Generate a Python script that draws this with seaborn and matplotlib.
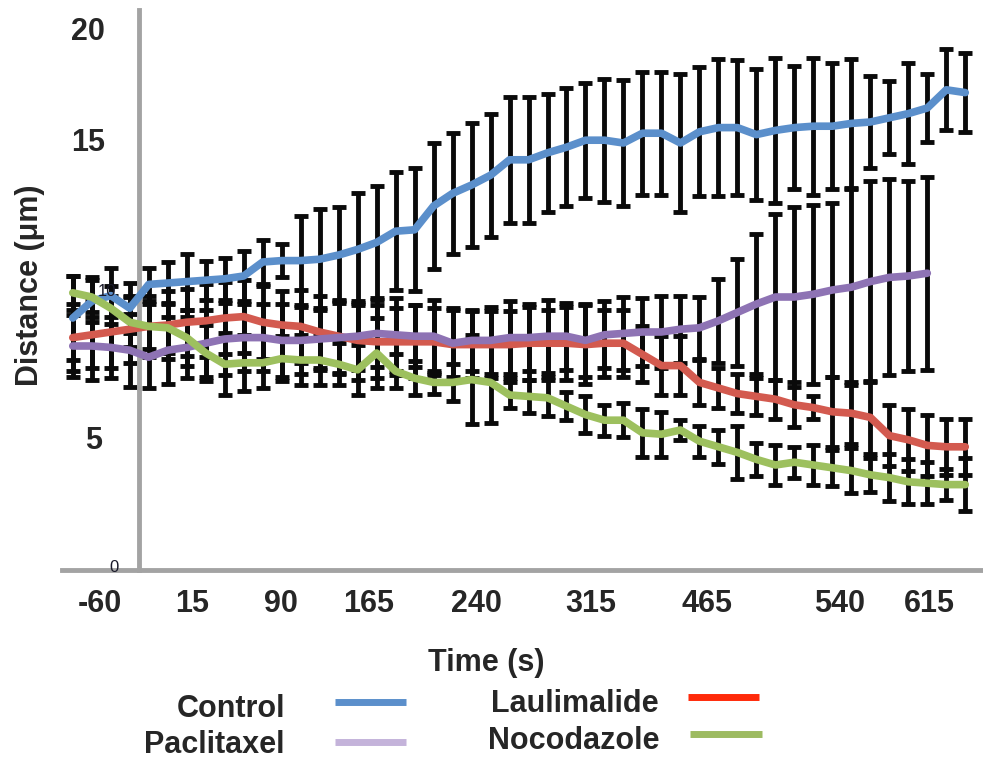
import matplotlib
matplotlib.use('Agg')
import matplotlib.pyplot as plt
import pandas as pd
import seaborn as sns
from matplotlib.lines import Line2D

# Time points (s), 15 s apart
time_s = [-60, -45, -30, -15, 0, 15, 30, 45, 60, 75, 90, 105, 120, 135, 150, 165,
          180, 195, 210, 225, 240, 255, 270, 285, 300, 315, 330, 345, 360, 375, 390,
          405, 420, 435, 450, 465, 480, 495, 510, 525, 540, 555, 570, 585, 600, 615,
          630, 645]

control = [9.0, 9.6, 9.8, 9.35, 10.2, 10.25, 10.3, 10.35, 10.4, 10.5,
           11.0, 11.05, 11.05, 11.1, 11.25, 11.45, 11.7, 12.1, 12.15, 13.0,
           13.45, 13.75, 14.1, 14.65, 14.65, 14.9, 15.1, 15.35, 15.35, 15.25,
           15.6, 15.6, 15.25, 15.65, 15.8, 15.8, 15.55, 15.7, 15.8, 15.85,
           15.85, 15.95, 16.0, 16.15, 16.3, 16.5, 17.15, 17.05]
control_err = [1.5, 0.75, 1.0, 0.9, 0.6, 0.75, 1.0, 0.7, 0.75, 0.9,
               0.8, 0.6, 1.6, 1.8, 1.7, 2.0, 2.0, 2.1, 2.2, 2.25,
               2.15, 2.2, 2.2, 2.25, 2.25, 2.1, 2.1, 2.05, 2.2, 2.25,
               2.2, 2.2, 2.45, 2.3, 2.45, 2.4, 2.35, 2.6, 2.2, 2.45,
               2.25, 2.3, 1.65, 1.3, 1.8, 1.2, 1.45, 1.4]

laulimalide = [8.3, 8.4, 8.5, 8.6, 8.7, 8.75, 8.85, 8.9, 9.0, 9.05,
               8.85, 8.75, 8.7, 8.5, 8.35, 8.2, 8.15, 8.15, 8.15, 8.15,
               8.05, 8.05, 8.05, 8.05, 8.1, 8.1, 8.1, 8.05, 8.1, 8.1,
               7.7, 7.3, 7.3, 6.7, 6.5, 6.3, 6.2, 6.1, 5.9, 5.8,
               5.65, 5.6, 5.45, 4.8, 4.65, 4.45, 4.4, 4.4]
laulimalide_err = [1.2, 1.2, 1.3, 1.2, 1.1, 1.2, 1.2, 1.3, 1.3, 1.3,
                   1.3, 1.2, 1.3, 1.3, 1.3, 1.4, 1.3, 1.2, 1.3, 1.2,
                   1.3, 1.2, 1.2, 1.2, 1.3, 1.2, 1.3, 1.4, 1.2, 1.2,
                   1.0, 1.05, 1.05, 0.8, 0.7, 0.7, 0.65, 0.7, 0.8, 0.4,
                   1.25, 1.1, 1.3, 1.1, 1.1, 1.1, 1.0, 1.0]

paclitaxel = [8.0, 8.0, 7.95, 7.85, 7.6, 7.85, 7.95, 8.1, 8.25, 8.3,
              8.3, 8.2, 8.2, 8.25, 8.3, 8.35, 8.45, 8.4, 8.35, 8.35,
              8.1, 8.2, 8.2, 8.3, 8.3, 8.35, 8.35, 8.2, 8.4, 8.45,
              8.5, 8.5, 8.6, 8.65, 8.9, 9.2, 9.5, 9.75, 9.75, 9.85,
              10.0, 10.1, 10.3, 10.45, 10.5, 10.6]
paclitaxel_err = [1.1, 1.2, 1.1, 1.3, 1.1, 1.2, 1.1, 1.2, 1.3, 1.2,
                  1.2, 1.3, 1.2, 1.1, 1.3, 1.2, 1.2, 1.3, 1.1, 1.3,
                  1.2, 1.1, 1.2, 1.3, 1.2, 1.3, 1.2, 1.3, 1.2, 1.3,
                  1.2, 1.3, 1.2, 1.1, 1.5, 1.9, 2.5, 2.95, 3.2, 3.2,
                  3.1, 3.5, 3.6, 3.5, 3.4, 3.45]

nocodazole = [9.9, 9.75, 9.35, 8.85, 8.7, 8.65, 8.3, 7.75, 7.35, 7.4,
              7.4, 7.55, 7.5, 7.5, 7.35, 7.15, 7.75, 7.1, 6.85, 6.7,
              6.7, 6.8, 6.7, 6.25, 6.2, 6.15, 5.85, 5.55, 5.35, 5.35,
              4.9, 4.85, 5.0, 4.6, 4.4, 4.2, 3.95, 3.75, 3.85, 3.75,
              3.65, 3.55, 3.4, 3.3, 3.15, 3.1, 3.05, 3.05]
nocodazole_err = [0.6, 0.7, 0.8, 0.9, 0.8, 0.9, 1.0, 1.0, 1.1, 1.0,
                  0.9, 0.8, 0.9, 0.9, 0.75, 0.9, 1.25, 0.6, 0.6, 0.4,
                  0.65, 1.6, 1.45, 0.45, 0.6, 0.65, 0.5, 0.65, 0.55, 0.6,
                  0.85, 0.8, 0.35, 0.55, 0.6, 0.95, 0.6, 0.7, 0.55, 0.7,
                  0.65, 0.8, 0.6, 0.85, 0.8, 0.75, 0.55, 0.95]

treatments = ['Control', 'Laulimalide', 'Paclitaxel', 'Nocodazole']
line_colors = {'Control': '#5B8FCB', 'Laulimalide': '#D35A4F',
               'Paclitaxel': '#8E73B4', 'Nocodazole': '#9DC05E'}
legend_colors = {'Control': '#5B8FCB', 'Paclitaxel': '#C4B3DA',
                 'Laulimalide': '#FF2A0A', 'Nocodazole': '#9DBB61'}

# tick labels sit where they were placed by hand in the original
xtick_pos = [-38.7, 34.0, 104.4, 173.9, 258.5, 349.3, 441.1, 545.4, 616.5]
xtick_labels = ['-60', '15', '90', '165', '240', '315', '465', '540', '615']

series = {'Control': (control, control_err),
          'Laulimalide': (laulimalide, laulimalide_err),
          'Paclitaxel': (paclitaxel, paclitaxel_err),
          'Nocodazole': (nocodazole, nocodazole_err)}

rows = []
for name, (vals, errs) in series.items():
    for t, v, e in zip(time_s, vals, errs):
        rows.append({'time': t, 'distance': v, 'err': e, 'treatment': name})
df = pd.DataFrame(rows)

sns.set_style('white')
plt.rcParams['font.family'] = ['Liberation Sans', 'DejaVu Sans']

W, H = 983, 762
fig = plt.figure(figsize=(W / 100, H / 100), dpi=100)
ax = fig.add_axes([62 / W, 192 / H, 921 / W, 560 / H])

# black error bars under the lines
for name in treatments:
    g = df[df['treatment'] == name]
    ax.errorbar(g['time'], g['distance'], yerr=g['err'], fmt='none',
                ecolor='#0a0a0a', elinewidth=3.5, capsize=5.0, capthick=3.5,
                zorder=2)

sns.lineplot(data=df, x='time', y='distance', hue='treatment',
             hue_order=treatments, palette=line_colors, linewidth=5.5,
             legend=False, errorbar=None, sort=False, ax=ax, zorder=3,
             solid_capstyle='round', solid_joinstyle='round')

ax.set_xlim(-68.5, 659)
ax.set_ylim(0, 20)
ax.set_xlabel('')
ax.set_ylabel('')

axis_grey = '#A3A3A3'
for s in ['top', 'right']:
    ax.spines[s].set_visible(False)
ax.spines['left'].set_position(('data', -7.5))
for s in ['left', 'bottom']:
    ax.spines[s].set_color(axis_grey)
    ax.spines[s].set_linewidth(3.5)

ax.set_yticks([0, 5, 10, 15, 20])
ax.tick_params(axis='y', direction='out', length=6, width=3, color=axis_grey,
               labelleft=False)

ax.set_xticks(xtick_pos, xtick_labels)
ax.set_xticks([t - 7.5 for t in time_s] + [time_s[-1] + 7.5], minor=True)
ax.tick_params(axis='x', which='major', length=0, pad=14, labelsize=22)
ax.tick_params(axis='x', which='minor', direction='out', length=5, width=2,
               color=axis_grey)
for lab in ax.get_xticklabels():
    lab.set_fontweight('bold')

# y tick labels as in the original (two of them small)
big = dict(fontsize=22, fontweight='bold', va='center')
fig.text(105 / W, 1 - 32 / H, '20', ha='right', **big)
fig.text(105 / W, 1 - 143 / H, '15', ha='right', **big)
fig.text(102 / W, 1 - 441 / H, '5', ha='right', **big)
fig.text(107 / W, 1 - 291 / H, '10', ha='center', va='center', fontsize=12,
         color='#1a1a2a')
fig.text(114 / W, 1 - 568 / H, '0', ha='center', va='center', fontsize=12,
         color='#1a1a2a')

fig.text(30 / W, 1 - 285 / H, 'Distance (μm)', rotation=90, ha='center', **big)
fig.text(486 / W, 1 - 663 / H, 'Time (s)', ha='center', **big)

# legend, laid out by hand like the original
leg_items = [('Control', 285, 709, 335, 406, 702, 'right'),
             ('Paclitaxel', 285, 745, 335, 406, 742, 'right'),
             ('Laulimalide', 575, 704, 688, 759, 697, 'center'),
             ('Nocodazole', 574, 741, 690, 762, 734, 'center')]
for name, tx, ty, x0, x1, sy, ha in leg_items:
    fig.text(tx / W, 1 - ty / H, name, ha=ha, **big)
    fig.add_artist(Line2D([x0 / W, x1 / W], [1 - sy / H, 1 - sy / H],
                          color=legend_colors[name], linewidth=5,
                          solid_capstyle='butt', transform=fig.transFigure))

fig.savefig('out.png', dpi=100)
